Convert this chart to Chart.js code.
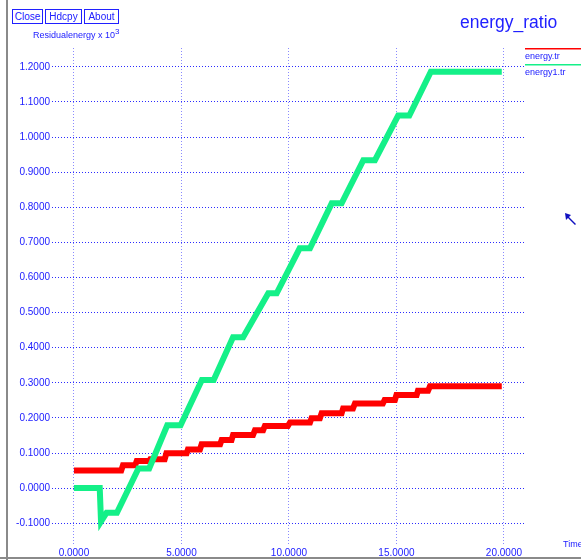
<!DOCTYPE html>
<html lang="en">
<head>
    <meta charset="UTF-8">
    <title>energy_ratio</title>
    <script src="https://cdn.jsdelivr.net/npm/chart.js@4.4.0/dist/chart.umd.min.js"></script>
    <style>
        body { margin: 0; background: #fff; }
        #wrap { position: relative; width: 581px; height: 560px; }
        .btn {
            position: absolute; top: 9px; height: 13px;
            border: 1px solid #2020ff; color: #2020ff; background: #fff;
            font: 10px "Liberation Sans", Arial, sans-serif;
            line-height: 13px; text-align: center;
        }
    </style>
</head>
<body>
    <div id="wrap">
        <canvas id="chart" width="581" height="560"></canvas>
        <div class="btn" style="left:12px;width:29px">Close</div>
        <div class="btn" style="left:45px;width:35px">Hdcpy</div>
        <div class="btn" style="left:84px;width:33px">About</div>
    </div>

    <script>
        // energy.tr (red)
        const timeRed = [0, 2.2, 2.28, 2.85, 2.92, 3.5, 3.55, 4.22, 4.3, 5.24, 5.3, 5.86, 5.94, 6.8, 6.87, 7.33,
            7.4, 8.33, 8.42, 8.8, 8.88, 9.95, 10.05, 10.98, 11.05, 11.44, 11.52, 12.45, 12.52, 12.98,
            13.07, 14.37, 14.45, 14.93, 15.0, 15.94, 16.0, 16.47, 16.56, 19.9];
        const energyRed = [0.05, 0.05, 0.065, 0.065, 0.077, 0.077, 0.082, 0.082, 0.099, 0.099, 0.11, 0.11, 0.125, 0.125, 0.137, 0.137,
            0.151, 0.151, 0.165, 0.165, 0.177, 0.177, 0.187, 0.187, 0.199, 0.199, 0.213, 0.213, 0.227, 0.227,
            0.241, 0.241, 0.251, 0.251, 0.265, 0.265, 0.277, 0.277, 0.29, 0.29];

        // energy1.tr (green)
        const timeGreen = [0, 1.2, 1.26, 1.52, 2.0, 3.0, 3.5, 4.34, 4.96, 5.95, 6.5, 7.4, 7.87, 9.04, 9.43,
            10.5, 10.98, 11.99, 12.45, 13.46, 14.0, 15.08, 15.6, 16.6, 19.9];
        const energyGreen = [0, 0, -0.095, -0.07, -0.07, 0.056, 0.056, 0.179, 0.179, 0.308, 0.308, 0.43, 0.43, 0.555, 0.555,
            0.683, 0.683, 0.811, 0.811, 0.934, 0.934, 1.061, 1.061, 1.186, 1.186];

        const seriesNames = ['energy.tr', 'energy1.tr'];
        const seriesColors = ['#ff0000', '#14f088'];

        const xTicks = [0, 5, 10, 15, 20];
        const yTicks = [-0.1, 0, 0.1, 0.2, 0.3, 0.4, 0.5, 0.6, 0.7, 0.8, 0.9, 1.0, 1.1, 1.2];

        const blue = '#2020ff';
        const font = '"Liberation Sans", Arial, sans-serif';

        const toPoints = (xs, ys) => xs.map((x, i) => ({ x: x, y: ys[i] }));

        // frame, labels, legend and the cursor arrow
        const decorations = {
            id: 'decorations',
            beforeDraw(chart) {
                const ctx = chart.ctx;
                ctx.save();
                ctx.fillStyle = '#fff';
                ctx.fillRect(0, 0, chart.width, chart.height);
                ctx.fillStyle = '#8a8a8a';
                ctx.fillRect(6, 0, 2, 560);
                ctx.fillRect(0, 557, 581, 2);
                ctx.restore();
            },
            afterDraw(chart) {
                const ctx = chart.ctx;
                ctx.save();
                ctx.fillStyle = blue;
                ctx.textBaseline = 'alphabetic';

                ctx.font = '17.5px ' + font;
                ctx.fillText('energy_ratio', 460, 28);

                ctx.font = '9px ' + font;
                ctx.fillText('Residualenergy x 10', 33, 38);
                const w = ctx.measureText('Residualenergy x 10').width;
                ctx.font = '8px ' + font;
                ctx.fillText('3', 33 + w, 34);

                ctx.font = '9px ' + font;
                ctx.fillText('Time', 563, 547);

                // legend
                seriesNames.forEach((name, i) => {
                    const y = 48 + i * 16;
                    ctx.fillStyle = seriesColors[i];
                    ctx.fillRect(525, y, 56, 1.5);
                    ctx.fillStyle = blue;
                    ctx.font = '9px ' + font;
                    ctx.fillText(name, 525, y + 11);
                });

                // mouse pointer
                ctx.fillStyle = '#1010c0';
                ctx.beginPath();
                ctx.moveTo(565, 213);
                ctx.lineTo(571, 215);
                ctx.lineTo(569, 217);
                ctx.lineTo(576, 224);
                ctx.lineTo(575, 225);
                ctx.lineTo(568, 218);
                ctx.lineTo(566, 220);
                ctx.closePath();
                ctx.fill();
                ctx.restore();
            }
        };

        new Chart(document.getElementById('chart'), {
            type: 'line',
            data: {
                datasets: [{
                    label: seriesNames[0],
                    data: toPoints(timeRed, energyRed),
                    borderColor: seriesColors[0],
                    borderWidth: 6,
                    pointRadius: 0,
                    tension: 0,
                    borderJoinStyle: 'miter',
                    order: 1
                }, {
                    label: seriesNames[1],
                    data: toPoints(timeGreen, energyGreen),
                    borderColor: seriesColors[1],
                    borderWidth: 6,
                    pointRadius: 0,
                    tension: 0,
                    borderJoinStyle: 'miter',
                    order: 0
                }]
            },
            options: {
                responsive: false,
                animation: false,
                layout: { padding: { top: 48, right: 56, left: 0, bottom: 0 } },
                plugins: {
                    legend: { display: false },
                    tooltip: { enabled: false }
                },
                scales: {
                    x: {
                        type: 'linear',
                        min: -1.02,
                        max: 20.98,
                        afterBuildTicks: scale => { scale.ticks = xTicks.map(v => ({ value: v })); },
                        afterFit: scale => { scale.height = 15; },
                        ticks: {
                            callback: v => v.toFixed(4),
                            color: blue,
                            font: { family: font, size: 10 },
                            padding: 2,
                            maxRotation: 0,
                            autoSkip: false
                        },
                        grid: { color: 'rgba(60,60,255,0.6)', drawTicks: false, lineWidth: 1 },
                        border: { display: false, dash: [1, 2] }
                    },
                    y: {
                        min: -0.162,
                        max: 1.2535,
                        afterBuildTicks: scale => { scale.ticks = yTicks.map(v => ({ value: v })); },
                        afterFit: scale => { scale.width = 52; },
                        ticks: {
                            callback: v => v.toFixed(4),
                            color: blue,
                            font: { family: font, size: 10 },
                            padding: 2,
                            autoSkip: false
                        },
                        grid: { color: 'rgba(20,20,255,0.9)', drawTicks: false, lineWidth: 1 },
                        border: { display: false, dash: [1, 2] }
                    }
                }
            },
            plugins: [decorations]
        });
    </script>
</body>
</html>
